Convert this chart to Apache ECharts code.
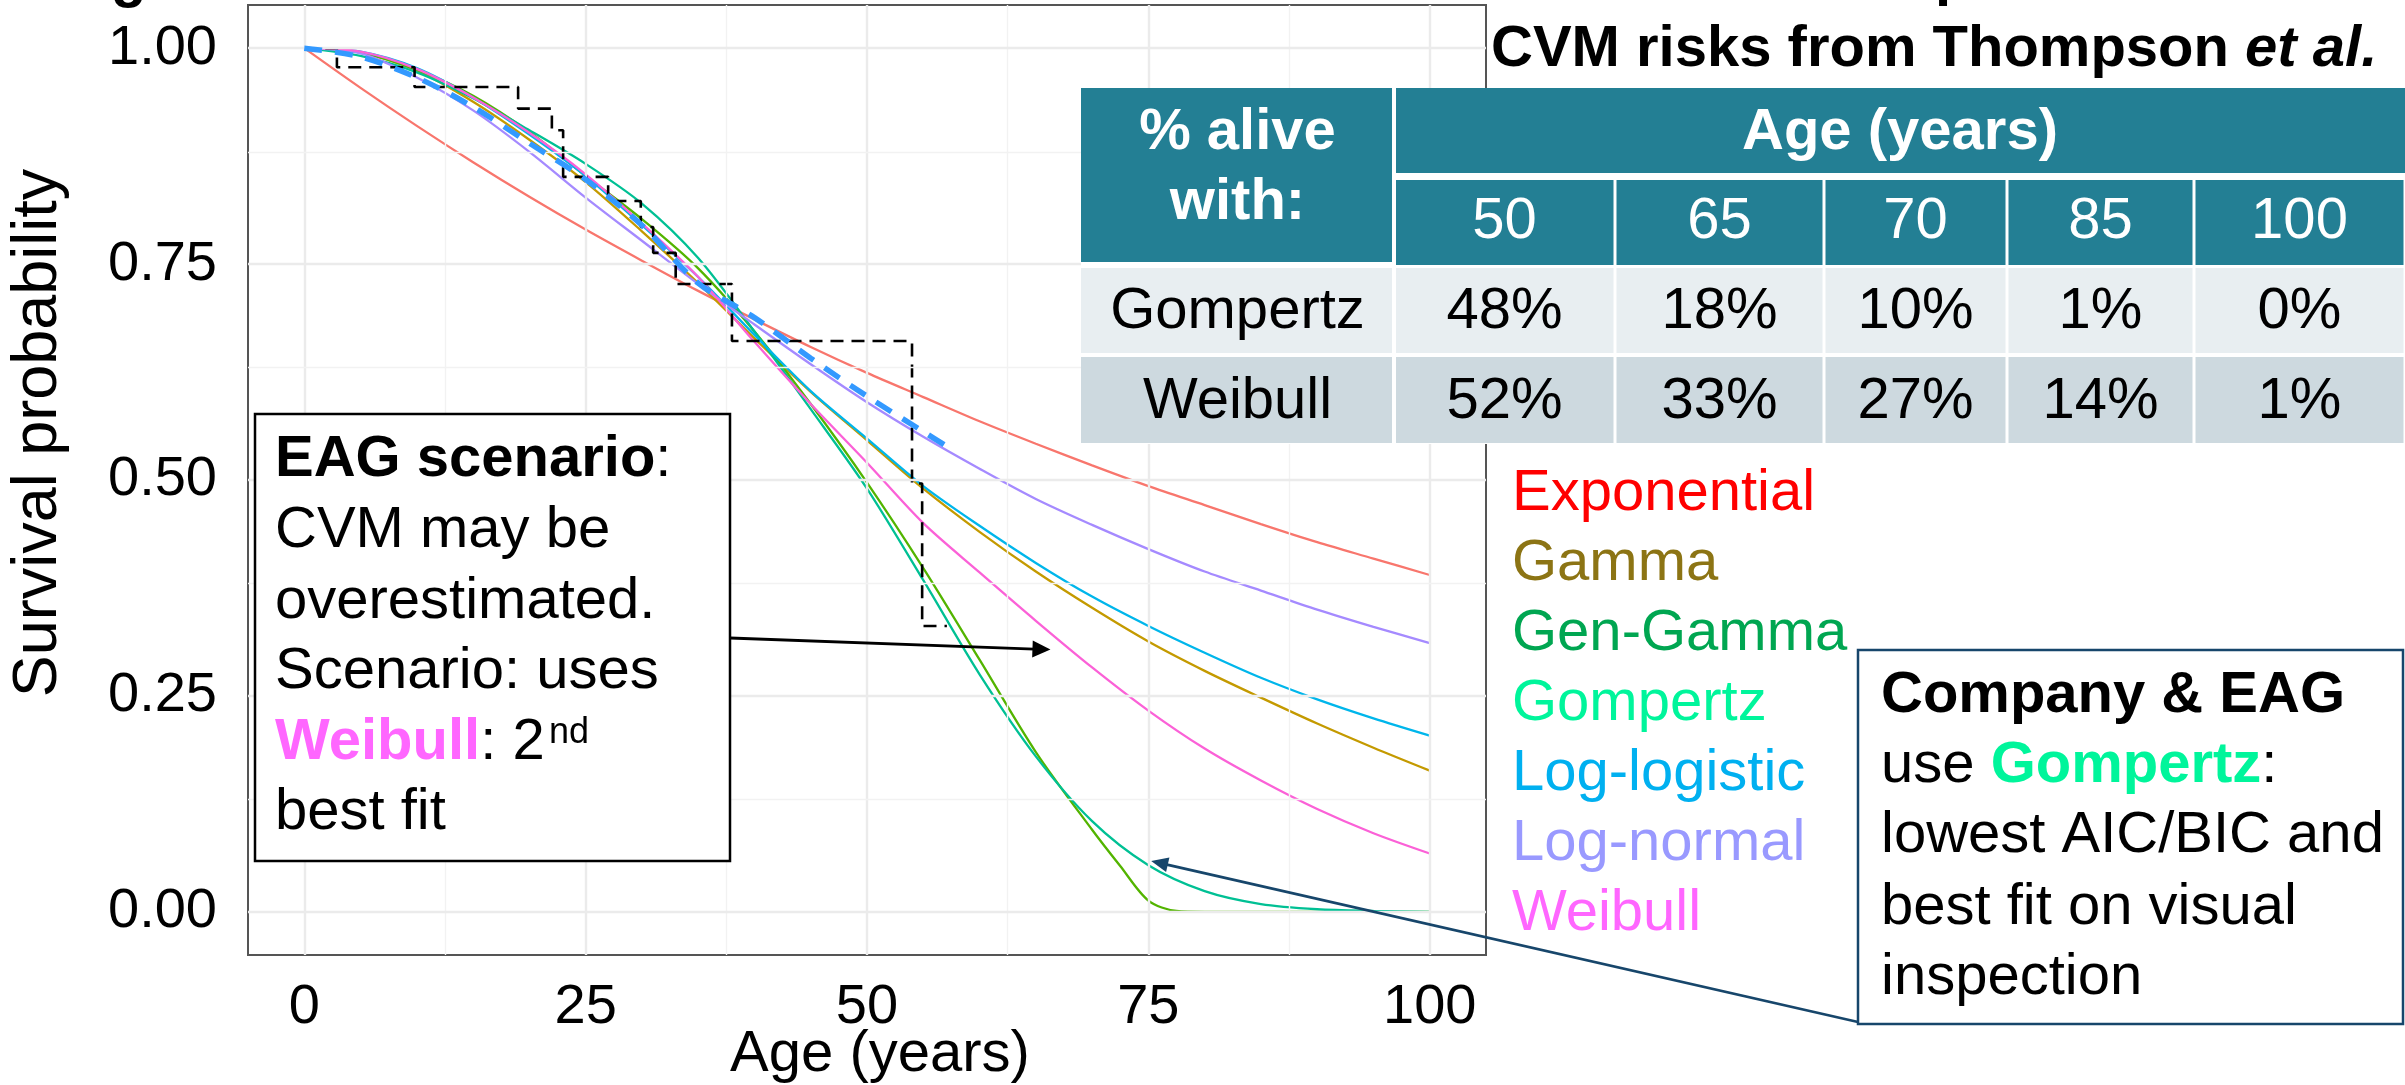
<!DOCTYPE html>
<html><head><meta charset="utf-8">
<script src="https://cdn.jsdelivr.net/npm/echarts@6/dist/echarts.min.js"></script>
<style>html,body{margin:0;padding:0;background:#fff;overflow:hidden}#c{width:2405px;height:1085px}</style>
</head><body><div id="c"></div>
<script>
// ---------------- data ----------------
const ages = [0,5,10,15,20,25,30,35,40,45,50,55,60,65,70,75,80,85,90,95,100];
const exponential = [1,0.954,0.910,0.868,0.828,0.790,0.754,0.719,0.686,0.654,0.624,0.596,0.568,0.542,0.517,0.493,0.471,0.449,0.428,0.409,0.390];
const gamma       = [1,0.995,0.974,0.938,0.894,0.845,0.788,0.728,0.664,0.602,0.546,0.490,0.440,0.394,0.352,0.313,0.279,0.248,0.218,0.190,0.1635];
const genGammaAges = [0,5,10,15,20,25,30,35,40,45,50,55,60,65,70,72.5,75,77.5,80,85,90,95,100];
const genGamma    = [1,0.995,0.975,0.945,0.903,0.852,0.802,0.745,0.672,0.588,0.497,0.398,0.292,0.185,0.095,0.053,0.013,0.001,0,0,0,0,0];
const gompertz    = [1,0.991,0.972,0.942,0.905,0.866,0.820,0.757,0.672,0.582,0.490,0.384,0.275,0.180,0.105,0.054,0.024,0.009,0.003,0.001,0];
const logLogistic = [1,0.996,0.977,0.943,0.900,0.852,0.795,0.735,0.668,0.603,0.548,0.493,0.447,0.404,0.365,0.331,0.300,0.271,0.246,0.224,0.204];
const logNormal   = [1,0.994,0.966,0.928,0.880,0.827,0.777,0.727,0.680,0.634,0.590,0.550,0.513,0.478,0.448,0.420,0.394,0.372,0.350,0.330,0.311];
const weibull     = [1,0.996,0.976,0.943,0.902,0.854,0.797,0.735,0.660,0.588,0.520,0.450,0.393,0.337,0.283,0.233,0.189,0.152,0.119,0.091,0.0675];
// Kaplan-Meier (step) and smoothed observed curve
const kmAges = [0,2.9,9.8,19.0,22.0,23.0,27.0,29.9,31.0,33.0,38.0,54.0,54.9,57.1];
const kmSurv = [1,0.978,0.955,0.930,0.905,0.851,0.823,0.793,0.763,0.727,0.661,0.496,0.331,0.331];
const obsAges = [0,5,10,15,20,25,30,35,40,45,50,55,57.2];
const obsSurv = [1,0.990,0.966,0.932,0.890,0.848,0.795,0.728,0.688,0.641,0.597,0.556,0.538];
// axis ticks
const xTicks = [0,25,50,75,100];
const yTicks = [0,0.25,0.5,0.75,1];
const xMinor = [12.5,37.5,62.5,87.5];
const yMinor = [0.125,0.375,0.625,0.875];
// legend
const modelNames  = ['Exponential','Gamma','Gen-Gamma','Gompertz','Log-logistic','Log-normal','Weibull'];
const lineColors  = ['#F8766D','#C49A00','#53B400','#00C094','#00B6EB','#A58AFF','#FB61D7'];
const labelColors = ['#FF0000','#8C7414','#00A651','#00F59B','#00B0F0','#9999FF','#FF66FF'];
// table
const tableTitle = 'CVM risks from Thompson ';
const tableAges = ['50','65','70','85','100'];
const gompertzPct = ['48%','18%','10%','1%','0%'];
const weibullPct  = ['52%','33%','27%','14%','1%'];

// ---------------- chart ----------------
const FF = '"Liberation Sans", Arial, Helvetica, sans-serif';
const chart = echarts.init(document.getElementById('c'), null, {renderer:'canvas'});
const zip = (xs, ys) => xs.map((x,i)=>[x, ys[i]]);
const modelData = [exponential, gamma, genGamma, gompertz, logLogistic, logNormal, weibull];

const gridLines = [];
xTicks.forEach(v=>gridLines.push({xAxis:v, lineStyle:{color:'#EBEBEB', width:2.4, type:'solid'}}));
xMinor.forEach(v=>gridLines.push({xAxis:v, lineStyle:{color:'#F2F2F2', width:1.4, type:'solid'}}));
yTicks.forEach(v=>gridLines.push({yAxis:v, lineStyle:{color:'#EBEBEB', width:2.4, type:'solid'}}));
yMinor.forEach(v=>gridLines.push({yAxis:v, lineStyle:{color:'#F2F2F2', width:1.4, type:'solid'}}));

const series = [{
  name:'grid', type:'line', data:[], silent:true, z:1,
  markLine:{silent:true, symbol:['none','none'], label:{show:false}, animation:false, emphasis:{disabled:true}, data:gridLines}
}];
modelNames.forEach((n,i)=>{
  series.push({
    name:n, type:'line', z:3, showSymbol:false, smooth:0.3, silent:true,
    data: zip(n==='Gen-Gamma' ? genGammaAges : ages, modelData[i]),
    lineStyle:{color:lineColors[i], width:2.3}, itemStyle:{color:lineColors[i]}
  });
});
series.push({
  name:'KM', type:'line', z:4, showSymbol:false, step:'end', silent:true,
  data: zip(kmAges, kmSurv),
  lineStyle:{color:'#000', width:2.6, type:[13,8]}
});
series.push({
  name:'Observed', type:'line', z:5, showSymbol:false, smooth:0.3, silent:true,
  data: zip(obsAges, obsSurv),
  lineStyle:{color:'#3399FF', width:5.5, type:[18,13]}
});

chart.setOption({
  animation:false,
  backgroundColor:'#fff',
  textStyle:{fontFamily:FF},
  grid:{left:248, top:5, width:1238, height:950, show:true, borderColor:'#555', borderWidth:2, backgroundColor:'#fff', containLabel:false, outerBoundsMode:'none'},
  xAxis:{type:'value', min:-5, max:105,
    axisLine:{show:false},
    axisTick:{show:true, customValues:xTicks, length:8, lineStyle:{color:'#333', width:2}},
    axisLabel:{customValues:xTicks, fontSize:56, color:'#000', margin:25, fontFamily:FF},
    splitLine:{show:false}, minorSplitLine:{show:false}},
  yAxis:{type:'value', min:-0.05, max:1.05,
    axisLine:{show:false},
    axisTick:{show:true, customValues:yTicks, length:8, lineStyle:{color:'#333', width:2}},
    axisLabel:{customValues:yTicks, fontSize:56, color:'#000', margin:31, padding:[15,0,0,0], fontFamily:FF,
      formatter:v=>Number(v).toFixed(2)},
    splitLine:{show:false}, minorSplitLine:{show:false}},
  legend:{show:true, orient:'vertical', left:1507, top:459, padding:0, itemGap:0,
    itemWidth:0, itemHeight:70, icon:'rect', itemStyle:{opacity:0}, selectedMode:false,
    textStyle:{fontSize:58, lineHeight:70, fontFamily:FF},
    data: modelNames.map((n,i)=>({name:n, icon:'rect', textStyle:{color:labelColors[i], fontSize:58, lineHeight:70, fontFamily:FF}}))},
  series
});

// ---------------- annotations & table ----------------
function T(text, x, baseline, o) {
  o = o || {};
  const fs = o.fs || 58;
  return {type:'text', z:100, style:{
    text, x, y: baseline - 0.3465*fs, fontSize:fs, fontFamily:FF,
    fontWeight:o.bold?'bold':'normal', fontStyle:o.italic?'italic':'normal',
    fill:o.color||'#000', align:o.align||'left', verticalAlign:'middle',
    textAlign:o.align||'left', textVerticalAlign:'middle', rich:o.rich}};
}
function R(x,y,w,h,fill,stroke,lw){
  return {type:'rect', z:99, shape:{x,y,width:w,height:h}, style:{fill:fill||'none', stroke:stroke||null, lineWidth:lw||0}};
}
function arrow(p1,p2,color,lw,hl,hw){
  const dx=p2[0]-p1[0], dy=p2[1]-p1[1], L=Math.hypot(dx,dy), ux=dx/L, uy=dy/L;
  const bx=p2[0]-ux*hl, by=p2[1]-uy*hl;
  return [
    {type:'line', z:101, shape:{x1:p1[0],y1:p1[1],x2:bx+ux*2,y2:by+uy*2}, style:{stroke:color, lineWidth:lw}},
    {type:'polygon', z:101, shape:{points:[[p2[0],p2[1]],[bx-uy*hw,by+ux*hw],[bx+uy*hw,by-ux*hw]]}, style:{fill:color}}
  ];
}
const rs = (o)=>Object.assign({fontSize:58, fontFamily:FF, lineHeight:70, fill:'#000'}, o);

const g = [];
// clipped title fragments at the very top
g.push(T('g', 111, 0, {bold:true}));
g.push(T('p', 1935, -2, {bold:true}));

// table title
g.push(T('{a|' + tableTitle + '}{b|et al.}', 1491, 70, {rich:{
  a:rs({fontWeight:'bold'}), b:rs({fontWeight:'bold', fontStyle:'italic'})}}));

// table
const teal = '#237F94';
const colX = [1081,1394,1615,1824,2007,2194,2405];
g.push(R(1081,88,1324,356,'#fff'));
g.push(R(1081,88,311,174,teal));
g.push(R(1396,88,1009,85,teal));
for (let i=1;i<6;i++){
  const x0 = colX[i]+(i===1?2:1.5), x1 = colX[i+1]-1.5;
  g.push(R(x0,180,x1-x0,85,teal));
  g.push(R(x0,268,x1-x0,85,'#E8EEF1'));
  g.push(R(x0,357,x1-x0,86,'#CDD9DF'));
}
g.push(R(1081,268,311,85,'#E8EEF1'));
g.push(R(1081,357,311,86,'#CDD9DF'));
g.push(T('% alive', 1237.5, 153, {bold:true, color:'#fff', align:'center'}));
g.push(T('with:', 1237.5, 223, {bold:true, color:'#fff', align:'center'}));
g.push(T('Age (years)', 1900, 153, {bold:true, color:'#fff', align:'center'}));
g.push(T('Gompertz', 1237.5, 332, {align:'center'}));
g.push(T('Weibull', 1237.5, 422, {align:'center'}));
for (let i=0;i<5;i++){
  const cx = (colX[i+1]+colX[i+2])/2;
  g.push(T(tableAges[i], cx, 242, {color:'#fff', align:'center'}));
  g.push(T(gompertzPct[i], cx, 332, {align:'center'}));
  g.push(T(weibullPct[i], cx, 422, {align:'center'}));
}

// EAG scenario box
g.push(R(255,414,475,447,'#fff','#000',2.5));
g.push(T('{b|EAG scenario}{r|:}', 275, 480, {rich:{b:rs({fontWeight:'bold'}), r:rs({})}}));
g.push(T('CVM may be', 275, 551));
g.push(T('overestimated.', 275, 622));
g.push(T('Scenario: uses', 275, 692));
g.push(T('{w|Weibull}{r|: 2}', 275, 763, {rich:{w:rs({fontWeight:'bold', fill:'#FF66FF'}), r:rs({})}}));
g.push(T('nd', 549, 746, {fs:36}));
g.push(T('best fit', 275, 833));

// Company & EAG box
const navy = '#17466B';
g.push(R(1858,650,545,374,'#fff',navy,2.5));
g.push(T('Company & EAG', 1881, 716, {bold:true}));
g.push(T('{r|use }{g|Gompertz}{r|:}', 1881, 786, {rich:{r:rs({}), g:rs({fontWeight:'bold', fill:'#00F59B'})}}));
g.push(T('lowest AIC/BIC and', 1881, 856));
g.push(T('best fit on visual', 1881, 928));
g.push(T('inspection', 1881, 998));

// axis titles
g.push(T('Age (years)', 880, 1075, {fs:58, align:'center'}));
g.push({type:'text', z:100, x:39, y:433, rotation:Math.PI/2, style:{text:'Survival probability', x:0, y:0,
  fontSize:63, fontFamily:FF, fill:'#000', align:'center', verticalAlign:'middle', textAlign:'center', textVerticalAlign:'middle'}});

// arrows pointing at curves (tips placed via the chart's own scales)
const tipW = chart.convertToPixel({gridIndex:0}, [66.3, 0.3036]);
const tipG = chart.convertToPixel({gridIndex:0}, [75.25, 0.0588]);
arrow([730,638], tipW, '#000', 2.8, 18, 8.5).forEach(e=>g.push(e));
arrow([1858,1022], tipG, navy, 2.6, 17, 7.5).forEach(e=>g.push(e));

chart.setOption({graphic:{elements:g}});
</script>
</body></html>
